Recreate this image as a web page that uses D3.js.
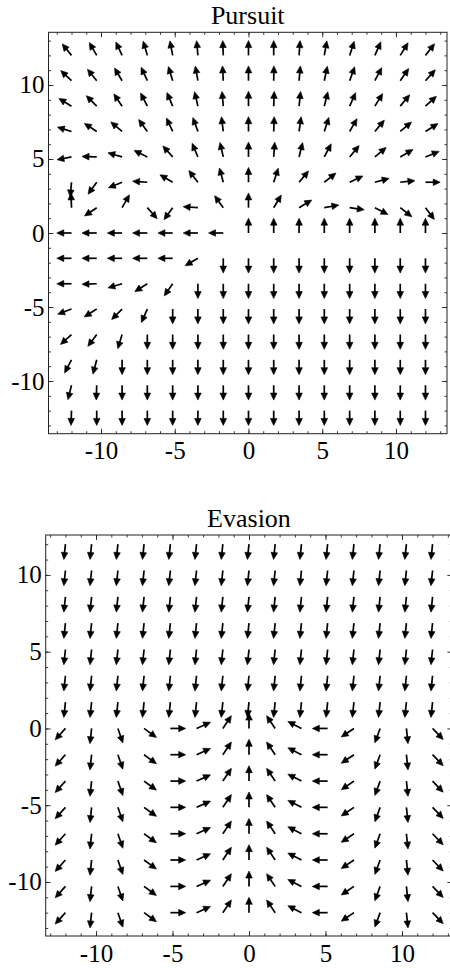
<!DOCTYPE html>
<html>
<head>
<meta charset="utf-8">
<script src="https://cdn.jsdelivr.net/npm/d3@7"></script>
<style>
  html, body { margin: 0; padding: 0; background: #fff; }
  svg { display: block; }
</style>
</head>
<body>
<script>
// Sample points of the vector field (same on both axes)
const gridValues = [-12, -10.29, -8.57, -6.86, -5.14, -3.43, -1.71, 0, 1.71, 3.43, 5.14, 6.86, 8.57, 10.29, 12];
const majorTicks = [-10, -5, 0, 5, 10];
const minorTicks = d3.range(-13, 14);
const panelTitles = ["Pursuit", "Evasion"];

// Arrow headings in degrees (counter-clockwise from +x).
// Rows run from y = 12 down to y = -12, columns from x = -12 to x = 12.
const pursuitAngles = [
  [129, 120, 115, 106, 101, 95, 92, 90, 90, 86, 80, 72, 66, 58, 52],
  [137, 129, 121, 115, 107, 100, 93, 90, 89, 85, 78, 70, 62, 55, 48],
  [149, 135, 124, 117, 113, 103, 95, 90, 88, 84, 76, 66, 58, 50, 42],
  [163, 147, 140, 126, 115, 110, 97, 90, 88, 82, 72, 60, 50, 40, 32],
  [191, 178, 164, 154, 132, 113, 103, 90, 86, 76, 62, 50, 40, 30, 22],
  [265, 234, 202, 176, 150, 128, 105, 90, 72, 50, 38, 25, 15, 6, 0],
  [92, 214, 60, 312, 234, 176, 126, 90, 59, 31, 10, 352, 333, 322, 307],
  [180, 180, 180, 180, 180, 180, 180, 90, 90, 90, 90, 90, 90, 90, 90],
  [180, 180, 180, 180, 180, 210, 270, 270, 270, 270, 270, 270, 270, 270, 270],
  [180, 182, 196, 212, 235, 270, 270, 270, 270, 270, 270, 270, 270, 270, 270],
  [200, 212, 225, 246, 270, 270, 270, 270, 270, 270, 270, 270, 270, 270, 270],
  [222, 233, 253, 270, 270, 270, 270, 270, 270, 270, 270, 270, 270, 270, 270],
  [242, 255, 270, 270, 270, 270, 270, 270, 270, 270, 270, 270, 270, 270, 270],
  [256, 268, 270, 270, 270, 270, 270, 270, 270, 270, 270, 270, 270, 270, 270],
  [268, 270, 270, 270, 270, 270, 270, 270, 270, 270, 270, 270, 270, 270, 270]
];

const evasionAngles = [
  [264, 264, 264, 264, 264, 264, 264, 264, 264, 264, 264, 264, 264, 264, 264],
  [264, 264, 264, 264, 264, 264, 264, 264, 264, 264, 264, 264, 264, 264, 264],
  [264, 264, 264, 264, 264, 264, 264, 264, 264, 264, 264, 264, 264, 264, 264],
  [264, 264, 264, 264, 264, 264, 264, 264, 264, 264, 264, 264, 264, 264, 264],
  [264, 264, 264, 264, 264, 264, 264, 264, 264, 264, 264, 264, 264, 264, 264],
  [264, 264, 264, 264, 264, 264, 264, 264, 264, 264, 264, 264, 264, 264, 264],
  [264, 264, 264, 264, 264, 264, 264, 264, 264, 264, 264, 264, 264, 264, 264],
  [228, 264, 289, 324, 0, 24, 56, 90, 124, 153, 180, 214, 250, 276, 314],
  [228, 264, 289, 324, 0, 24, 56, 90, 124, 153, 180, 214, 250, 276, 314],
  [228, 264, 289, 324, 0, 24, 56, 90, 124, 153, 180, 214, 250, 276, 314],
  [228, 264, 289, 324, 0, 24, 56, 90, 124, 153, 180, 214, 250, 276, 314],
  [228, 264, 289, 324, 0, 24, 56, 90, 124, 153, 180, 214, 250, 276, 314],
  [228, 264, 289, 324, 0, 24, 56, 90, 124, 153, 180, 214, 250, 276, 314],
  [228, 264, 289, 324, 0, 24, 56, 90, 124, 153, 180, 214, 250, 276, 314],
  [228, 264, 289, 324, 0, 24, 56, 90, 124, 153, 180, 214, 250, 276, 314]
];

const W = 450, H = 968;
const FONT = "'Liberation Serif', 'Times New Roman', serif";

const panels = [
  { title: panelTitles[0], angles: pursuitAngles,
    xDomain: [-13.56, 13.46], yDomain: [-13.56, 13.56],
    left: 48.5, right: 447, top: 32.3, bottom: 433.7 },
  { title: panelTitles[1], angles: evasionAngles,
    xDomain: [-13.29, 13.29], yDomain: [-13.52, 12.6],
    left: 45.7, right: 452.3, top: 535, bottom: 936 }
];

const svg = d3.select("body").append("svg")
  .attr("width", W).attr("height", H)
  .attr("viewBox", `0 0 ${W} ${H}`);

const ARROW_LEN = 1;     // arrow length in data units
const HEAD_LEN = 7;      // px
const HEAD_HALF = 3.3;   // px

function arrowParts(x1, y1, x2, y2) {
  const dx = x2 - x1, dy = y2 - y1;
  const len = Math.hypot(dx, dy);
  const ux = dx / len, uy = dy / len;
  const nx = -uy, ny = ux;
  const bx = x2 - ux * HEAD_LEN, by = y2 - uy * HEAD_LEN;
  return {
    shaft: `M${x1},${y1}L${x2 - ux * HEAD_LEN * 0.7},${y2 - uy * HEAD_LEN * 0.7}`,
    head: `M${x2},${y2}L${bx + nx * HEAD_HALF},${by + ny * HEAD_HALF}L${bx - nx * HEAD_HALF},${by - ny * HEAD_HALF}Z`
  };
}

panels.forEach(p => {
  const x = d3.scaleLinear().domain(p.xDomain).range([p.left, p.right]);
  const y = d3.scaleLinear().domain(p.yDomain).range([p.bottom, p.top]);
  const g = svg.append("g");

  // frame
  g.append("rect")
    .attr("x", p.left).attr("y", p.top)
    .attr("width", p.right - p.left).attr("height", p.bottom - p.top)
    .attr("fill", "none").attr("stroke", "#222").attr("stroke-width", 1);

  // inward ticks on all four sides
  const styleAxis = sel => {
    sel.select(".domain").remove();
    sel.selectAll(".tick line").attr("stroke", "#222").attr("stroke-width", 0.9);
    sel.attr("font-family", FONT).attr("font-size", 25);
    sel.selectAll(".tick text").attr("fill", "#000");
  };
  const minorT = minorTicks.filter(v => v >= p.xDomain[0] && v <= p.xDomain[1]);
  const minorTy = minorTicks.filter(v => v >= p.yDomain[0] && v <= p.yDomain[1]);

  g.append("g").attr("transform", `translate(0,${p.bottom})`)
    .call(d3.axisBottom(x).tickValues(minorT).tickSize(-2.5).tickFormat("")).call(styleAxis);
  g.append("g").attr("transform", `translate(0,${p.bottom})`)
    .call(d3.axisBottom(x).tickValues(majorTicks).tickSize(-5).tickPadding(8).tickFormat(d3.format("d")))
    .call(styleAxis);
  g.append("g").attr("transform", `translate(0,${p.top})`)
    .call(d3.axisTop(x).tickValues(minorT).tickSize(-2.5).tickFormat("")).call(styleAxis);
  g.append("g").attr("transform", `translate(0,${p.top})`)
    .call(d3.axisTop(x).tickValues(majorTicks).tickSize(-5).tickFormat("")).call(styleAxis);

  g.append("g").attr("transform", `translate(${p.left},0)`)
    .call(d3.axisLeft(y).tickValues(minorTy).tickSize(-2.5).tickFormat("")).call(styleAxis);
  g.append("g").attr("transform", `translate(${p.left},0)`)
    .call(d3.axisLeft(y).tickValues(majorTicks).tickSize(-5).tickPadding(4).tickFormat(d3.format("d")))
    .call(styleAxis);
  g.append("g").attr("transform", `translate(${p.right},0)`)
    .call(d3.axisRight(y).tickValues(minorTy).tickSize(-2.5).tickFormat("")).call(styleAxis);
  g.append("g").attr("transform", `translate(${p.right},0)`)
    .call(d3.axisRight(y).tickValues(majorTicks).tickSize(-5).tickFormat("")).call(styleAxis);

  // use a plain hyphen for negative labels
  g.selectAll(".tick text").text(function () { return this.textContent.replace("\u2212", "-"); });

  // title
  g.append("text")
    .attr("x", (p.left + p.right) / 2).attr("y", p.top - 8.5)
    .attr("text-anchor", "middle")
    .attr("font-family", FONT).attr("font-size", 26)
    .text(p.title);

  // vector field arrows, tail at each sample point
  const arrows = p.angles.flatMap((row, i) => row.map((deg, j) => {
    const a = deg * Math.PI / 180;
    const xv = gridValues[j], yv = gridValues[gridValues.length - 1 - i];
    return arrowParts(x(xv), y(yv), x(xv + ARROW_LEN * Math.cos(a)), y(yv + ARROW_LEN * Math.sin(a)));
  }));

  const ag = g.append("g");
  ag.selectAll("path.shaft").data(arrows).join("path")
    .attr("class", "shaft").attr("d", d => d.shaft)
    .attr("stroke", "#000").attr("stroke-width", 1.7).attr("fill", "none");
  ag.selectAll("path.head").data(arrows).join("path")
    .attr("class", "head").attr("d", d => d.head)
    .attr("fill", "#000").attr("stroke", "#000").attr("stroke-width", 0.6)
    .attr("stroke-linejoin", "miter");
});
</script>
</body>
</html>
